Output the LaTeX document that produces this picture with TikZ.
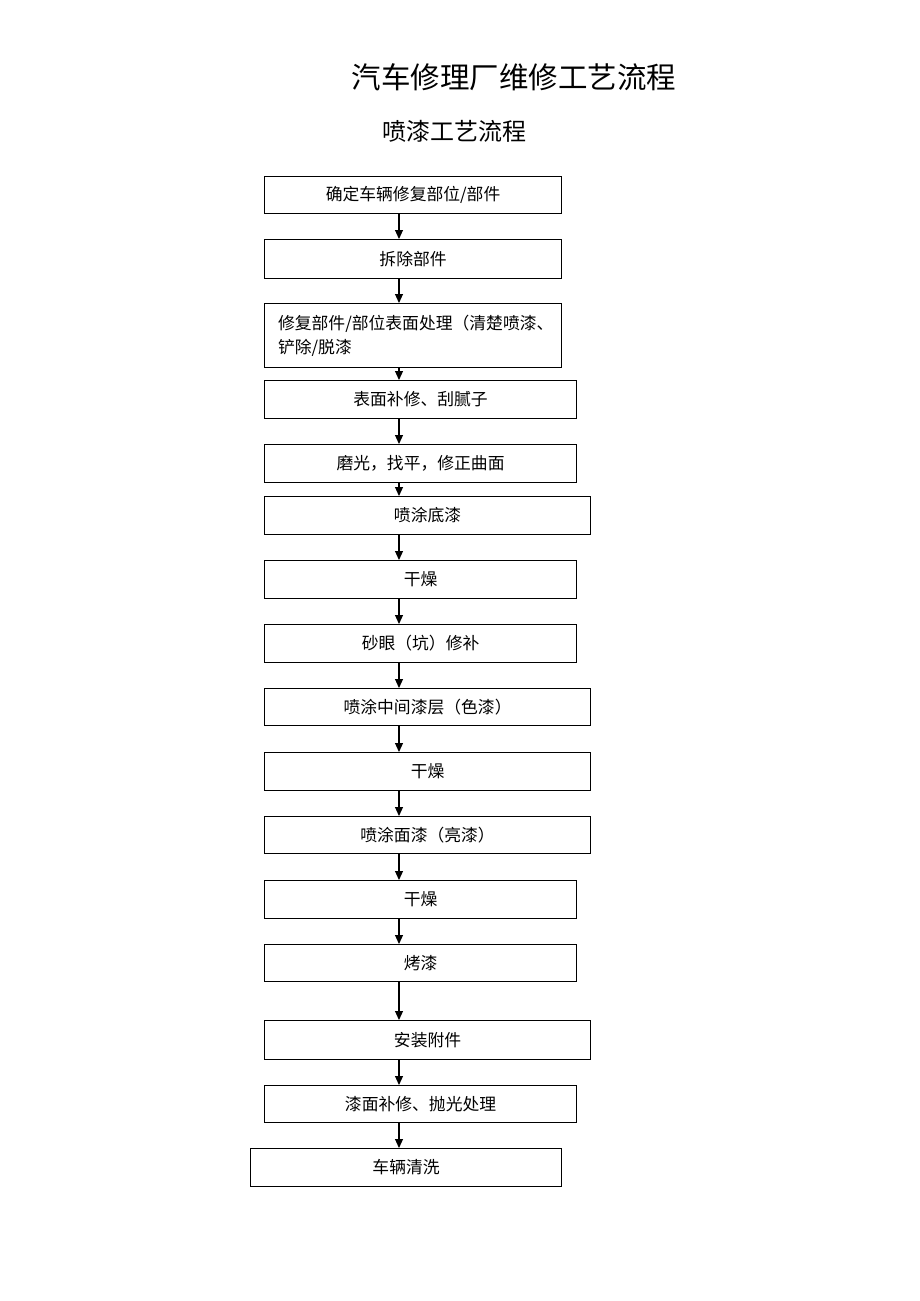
\documentclass[tikz,border=0pt]{standalone}
\usepackage{fontspec}
\usetikzlibrary{arrows.meta}
\newfontfamily\cjk{Noto Sans CJK SC}
\begin{document}
\begin{tikzpicture}[x=1pt,y=-1pt,
  box/.style={draw=black, line width=1.1pt, inner sep=0pt, anchor=north west,
    font=\cjk\fontsize{16.8}{24}\selectfont},
  arr/.style={line width=1.1pt, -{Triangle[length=9pt,width=8pt]}}]
\useasboundingbox (0,0) rectangle (920,1301);
\node[font=\cjk\fontsize{29.5}{32}\selectfont] (t1) at (514,77) {汽车修理厂维修工艺流程};
\node[font=\cjk\fontsize{24}{28}\selectfont] (t2) at (454,131) {喷漆工艺流程};
\coordinate (ax) at (399,0);
\node[box, minimum width=297pt, minimum height=37pt] (b1) at (264,176) {确定车辆修复部位/部件};
\node[box, minimum width=297pt, minimum height=39pt] (b2) at (264,239) {拆除部件};
\node[box, minimum width=297pt, minimum height=64pt, align=left, text width=270pt, inner xsep=13pt, inner ysep=0pt] (b3) at (264,303) {修复部件/部位表面处理（清楚喷漆、\\铲除/脱漆};
\node[box, minimum width=312pt, minimum height=38pt] (b4) at (264,380) {表面补修、刮腻子};
\node[box, minimum width=312pt, minimum height=38pt] (b5) at (264,444) {磨光，找平，修正曲面};
\node[box, minimum width=326pt, minimum height=38pt] (b6) at (264,496) {喷涂底漆};
\node[box, minimum width=312pt, minimum height=38pt] (b7) at (264,560) {干燥};
\node[box, minimum width=312pt, minimum height=38pt] (b8) at (264,624) {砂眼（坑）修补};
\node[box, minimum width=326pt, minimum height=37pt] (b9) at (264,688) {喷涂中间漆层（色漆）};
\node[box, minimum width=326pt, minimum height=38pt] (b10) at (264,752) {干燥};
\node[box, minimum width=326pt, minimum height=37pt] (b11) at (264,816) {喷涂面漆（亮漆）};
\node[box, minimum width=312pt, minimum height=38pt] (b12) at (264,880) {干燥};
\node[box, minimum width=312pt, minimum height=37pt] (b13) at (264,944) {烤漆};
\node[box, minimum width=326pt, minimum height=39pt] (b14) at (264,1020) {安装附件};
\node[box, minimum width=312pt, minimum height=37pt] (b15) at (264,1085) {漆面补修、抛光处理};
\node[box, minimum width=311pt, minimum height=38pt] (b16) at (250,1148) {车辆清洗};
\foreach \a/\b in {b1/b2,b2/b3,b3/b4,b4/b5,b5/b6,b6/b7,b7/b8,b8/b9,b9/b10,b10/b11,b11/b12,b12/b13,b13/b14,b14/b15,b15/b16}
  \draw[arr] (\a.south -| ax) -- (\b.north -| ax);
\end{tikzpicture}
\end{document}
